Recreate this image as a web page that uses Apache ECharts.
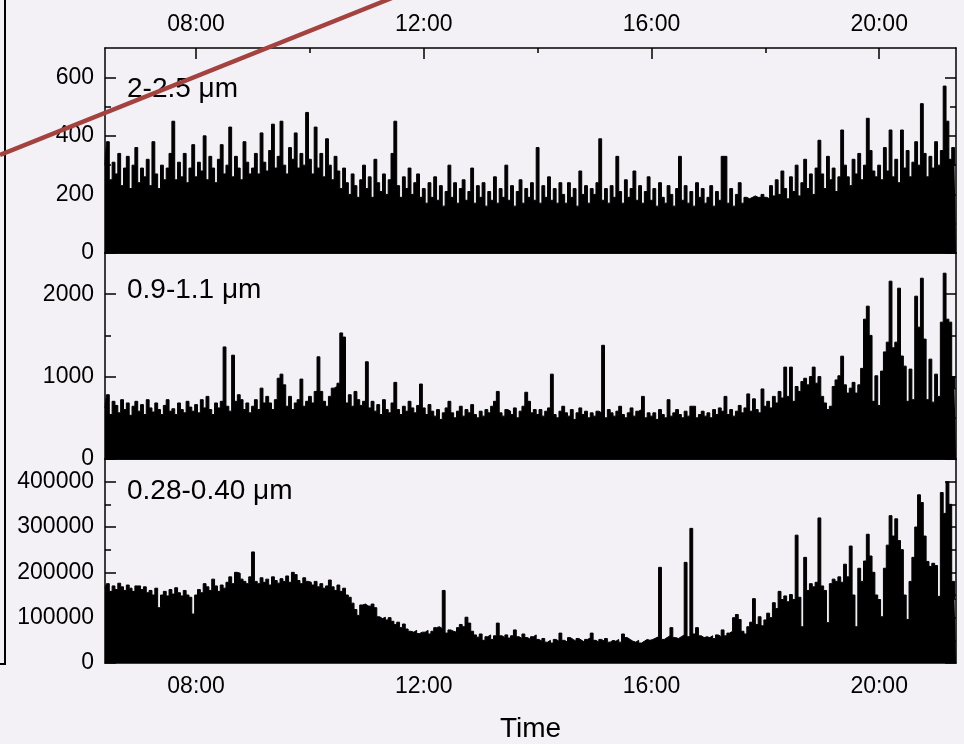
<!DOCTYPE html>
<html>
<head>
<meta charset="utf-8">
<script src="https://cdn.jsdelivr.net/npm/echarts@6/dist/echarts.min.js"></script>
<style>
html,body{margin:0;padding:0;background:#f3f1f6;}
#c{width:964px;height:744px;}
</style>
</head>
<body>
<div id="c"></div>
<script>
// Time axis in minutes after midnight (06:24 .. 21:21), samples every 3 minutes
const startMin = 384, stepMin = 3, endMin = 1281;
const timeTicks = [480, 720, 960, 1200];
const timeMinorTicks = [600, 840, 1080];
const sizeLabels = ['2-2.5 \u03bcm', '0.9-1.1 \u03bcm', '0.28-0.40 \u03bcm'];
const xTitle = 'Time';

const y1Ticks = [0, 200, 400, 600],            y1Minor = [100, 300, 500],  y1Max = 700;
const y2Ticks = [0, 1000, 2000],               y2Minor = [500, 1500],      y2Max = 2500;
const y3Ticks = [0, 100000, 200000, 300000, 400000], y3Minor = [50000, 150000, 250000, 350000], y3Max = 450000;

// 2-2.5 um
const p1 = [
 300,380,250,310,270,340,230,290,330,220,300,360,
 240,290,260,320,230,380,270,220,300,250,290,340,450,250,310,260,340,240,290,370,
 260,310,280,400,250,330,290,240,320,370,270,300,430,260,330,290,250,380,310,270,
 290,340,270,410,310,280,350,440,290,330,450,300,270,360,320,410,290,340,300,480,
 320,270,430,290,340,260,390,300,250,330,280,220,290,240,200,270,230,190,250,300,
 220,260,190,320,240,210,270,200,250,340,450,230,190,260,220,290,200,240,270,190,
 220,170,240,190,260,180,230,160,210,300,190,240,170,220,250,180,210,290,170,230,
 190,240,160,210,180,260,170,220,190,300,180,230,160,210,250,170,220,190,240,180,
 360,170,230,190,260,180,220,170,240,200,170,240,190,220,160,280,200,230,170,220,
 200,240,390,180,220,170,230,190,330,210,170,250,190,220,280,180,230,170,210,260,
 180,220,160,240,190,170,230,200,160,220,330,180,230,170,210,160,240,190,220,170,
 190,230,160,210,180,330,330,170,220,160,200,240,170,190,185,190,195,190,190,200,
 190,185,230,195,250,200,280,220,185,260,210,300,195,240,320,220,270,200,290,385,
 270,220,330,250,290,210,260,420,300,260,230,320,270,340,250,300,460,350,280,260,
 300,250,360,280,420,260,320,240,420,290,350,260,310,380,300,510,340,260,330,290,
 380,300,350,570,450,320,360,300
];
// 0.9-1.1 um
const p2 = [
 620,780,540,700,650,560,720,600,680,530,640,700,
 580,660,540,720,620,570,680,600,540,650,720,580,610,540,680,600,560,700,630,580,
 660,560,720,620,760,600,540,680,620,700,1360,640,580,1260,700,780,720,600,680,560,
 640,720,600,860,680,760,680,600,720,980,1030,900,640,760,600,680,720,970,640,700,
 760,680,820,1240,820,700,640,760,860,880,920,1530,1480,680,780,640,820,720,650,700,
 1180,620,700,580,660,540,720,600,560,680,930,600,540,640,580,700,620,560,650,910,
 620,540,660,580,520,600,480,560,620,700,560,500,580,640,520,600,560,660,540,500,
 580,520,600,560,640,700,820,560,520,600,580,540,620,500,580,640,810,700,560,600,
 540,600,520,580,620,1030,540,500,580,640,560,520,600,480,560,620,540,580,500,560,
 520,580,560,1380,500,600,560,520,580,640,540,500,560,620,520,580,600,760,500,560,
 520,560,480,600,540,500,720,520,560,600,540,500,580,520,640,640,500,540,580,520,
 560,500,600,540,620,580,760,540,600,520,580,650,560,620,790,580,730,600,560,850,
 640,700,620,760,680,820,740,1115,760,1115,700,880,820,940,980,900,1000,1115,920,1000,
 760,680,600,640,880,960,1010,1248,900,800,860,930,800,900,1100,1697,1855,1500,700,1010,
 650,1067,1300,1418,2158,1350,1418,2073,1250,1127,700,1091,720,1976,1600,2194,1455,720,1212,690,
 1030,760,1661,2255,1697,1661,1000,850
];
// 0.28-0.40 um
const p3 = [
 165000,175000,158000,170000,162000,176000,168000,160000,172000,165000,158000,170000,
 170000,162000,168000,155000,160000,150000,165000,122000,150000,158000,148000,162000,152000,166000,155000,148000,160000,150000,145000,108000,
 150000,162000,155000,175000,168000,160000,185000,170000,158000,172000,165000,178000,190000,175000,200000,198000,185000,180000,175000,190000,
 245000,180000,175000,188000,178000,185000,172000,190000,182000,176000,186000,180000,192000,178000,200000,195000,182000,175000,188000,180000,
 178000,172000,180000,168000,175000,165000,170000,183000,168000,160000,172000,158000,165000,150000,145000,132000,118000,105000,128000,130000,
 126000,125000,130000,122000,102000,98000,101000,95000,100000,92000,85000,90000,78000,86000,75000,70000,68000,72000,65000,68000,
 68000,72000,64000,70000,78000,80000,76000,160000,66000,73000,70000,68000,78000,85000,80000,101000,88000,70000,62000,57000,
 64000,50000,58000,62000,52000,60000,88000,60000,56000,62000,55000,60000,73000,58000,54000,64000,56000,52000,58000,62000,
 52000,48000,54000,46000,50000,44000,52000,48000,66000,50000,46000,56000,52000,48000,54000,50000,46000,52000,55000,66000,
 50000,46000,52000,48000,54000,46000,50000,48000,52000,46000,64000,56000,52000,48000,46000,50000,44000,48000,52000,50000,
 52000,55000,58000,211000,52000,56000,60000,78000,56000,54000,58000,62000,222000,58000,297000,64000,78000,60000,56000,58000,
 56000,60000,54000,62000,58000,73000,60000,66000,70000,100000,107000,96000,70000,64000,80000,90000,142000,85000,102000,82000,
 95000,110000,100000,133000,120000,158000,140000,148000,135000,151000,140000,282000,145000,80000,233000,160000,175000,168000,178000,320000,
 170000,160000,89000,175000,185000,180000,190000,178000,218000,190000,258000,150000,80000,209000,180000,225000,284000,236000,200000,150000,
 140000,102000,209000,260000,325000,280000,318000,270000,250000,150000,96000,180000,233000,300000,371000,354000,280000,224000,213000,220000,
 215000,147000,376000,330000,400000,350000,180000,140000
];

const panels = [
  {vals: p1, ticks: y1Ticks, minor: y1Minor, max: y1Max, label: sizeLabels[0], top: 48,  height: 205, labelY: 89},
  {vals: p2, ticks: y2Ticks, minor: y2Minor, max: y2Max, label: sizeLabels[1], top: 253, height: 206, labelY: 290},
  {vals: p3, ticks: y3Ticks, minor: y3Minor, max: y3Max, label: sizeLabels[2], top: 459, height: 205, labelY: 491}
];

const font = 'Liberation Sans, Arial, Helvetica, sans-serif';
const pad2 = n => String(n).padStart(2, '0');
const fmtTime = v => pad2(Math.floor(v / 60)) + ':' + pad2(v % 60);
const lineOn = {show: true, onZero: false, lineStyle: {color: '#000', width: 1.5}};
const lineOff = {show: false, onZero: false};
const tick = (vals, len) => ({show: true, inside: true, length: len, customValues: vals, lineStyle: {color: '#000', width: 1.5}});
const noTick = {show: false};
const noLabel = {show: false};
const labelSize = 23;

const grids = [], xAxes = [], yAxes = [], series = [], graphics = [];

panels.forEach((p, g) => {
  grids.push({left: 105, width: 851, top: p.top, height: p.height, show: false});
  const xBase = {type: 'value', gridIndex: g, min: startMin, max: endMin, splitLine: {show: false}};
  const mainX = xAxes.length;
  xAxes.push(Object.assign({}, xBase, {
    position: 'bottom', axisLine: lineOn,
    axisTick: g === 2 ? tick(timeTicks, 11) : noTick,
    axisLabel: g === 2 ? {show: true, customValues: timeTicks, formatter: fmtTime, margin: 12, fontSize: labelSize, color: '#000', fontFamily: font} : noLabel,
    name: g === 2 ? xTitle : '', nameLocation: 'middle', nameGap: 52,
    nameTextStyle: {fontSize: 28, color: '#000', fontFamily: font}
  }));
  xAxes.push(Object.assign({}, xBase, {
    position: 'top', axisLine: lineOn,
    axisTick: g === 0 ? tick(timeTicks, 11) : noTick,
    axisLabel: g === 0 ? {show: true, customValues: timeTicks, formatter: fmtTime, margin: 12, fontSize: labelSize, color: '#000', fontFamily: font} : noLabel
  }));
  if (g === 0 || g === 2) {
    xAxes.push(Object.assign({}, xBase, {
      position: g === 0 ? 'top' : 'bottom', axisLine: lineOff,
      axisTick: tick(timeMinorTicks, 5), axisLabel: noLabel
    }));
  }
  const yBase = {type: 'value', gridIndex: g, min: 0, max: p.max, splitLine: {show: false}};
  const mainY = yAxes.length;
  yAxes.push(Object.assign({}, yBase, {
    position: 'left', axisLine: lineOn, axisTick: tick(p.ticks, 11),
    axisLabel: {show: true, customValues: p.ticks, formatter: v => String(v), margin: 11, fontSize: labelSize, color: '#000', fontFamily: font}
  }));
  yAxes.push(Object.assign({}, yBase, {position: 'left', axisLine: lineOff, axisTick: tick(p.minor, 6), axisLabel: noLabel}));
  yAxes.push(Object.assign({}, yBase, {position: 'right', axisLine: lineOn, axisTick: tick(p.ticks, 11), axisLabel: noLabel}));
  yAxes.push(Object.assign({}, yBase, {position: 'right', axisLine: lineOff, axisTick: tick(p.minor, 6), axisLabel: noLabel}));

  series.push({
    type: 'line', xAxisIndex: mainX, yAxisIndex: mainY,
    data: p.vals.map((v, i) => [startMin + i * stepMin, v]),
    step: 'middle', symbol: 'none', showSymbol: false, silent: true,
    lineStyle: {color: '#000', width: 1},
    areaStyle: {color: '#000', opacity: 1}
  });

  graphics.push({
    type: 'text', x: 127, y: p.labelY, z: 50,
    style: {text: p.label, font: '28px ' + font, fill: '#000', align: 'left', verticalAlign: 'middle', textAlign: 'left', textVerticalAlign: 'middle'}
  });
});

graphics.push({type: 'line', z: 60, shape: {x1: 5, y1: 0, x2: 5, y2: 664}, style: {stroke: '#000', lineWidth: 2}});
graphics.push({type: 'line', z: 60, shape: {x1: 0, y1: 664, x2: 6, y2: 664}, style: {stroke: '#000', lineWidth: 2}});
graphics.push({type: 'line', z: 100, shape: {x1: 0, y1: 155, x2: 392, y2: -2}, style: {stroke: '#a3423f', lineWidth: 4.5}});

const chart = echarts.init(document.getElementById('c'));
chart.setOption({
  backgroundColor: '#f3f1f6',
  animation: false,
  grid: grids,
  xAxis: xAxes,
  yAxis: yAxes,
  series: series,
  graphic: {elements: graphics}
});
</script>
</body>
</html>
